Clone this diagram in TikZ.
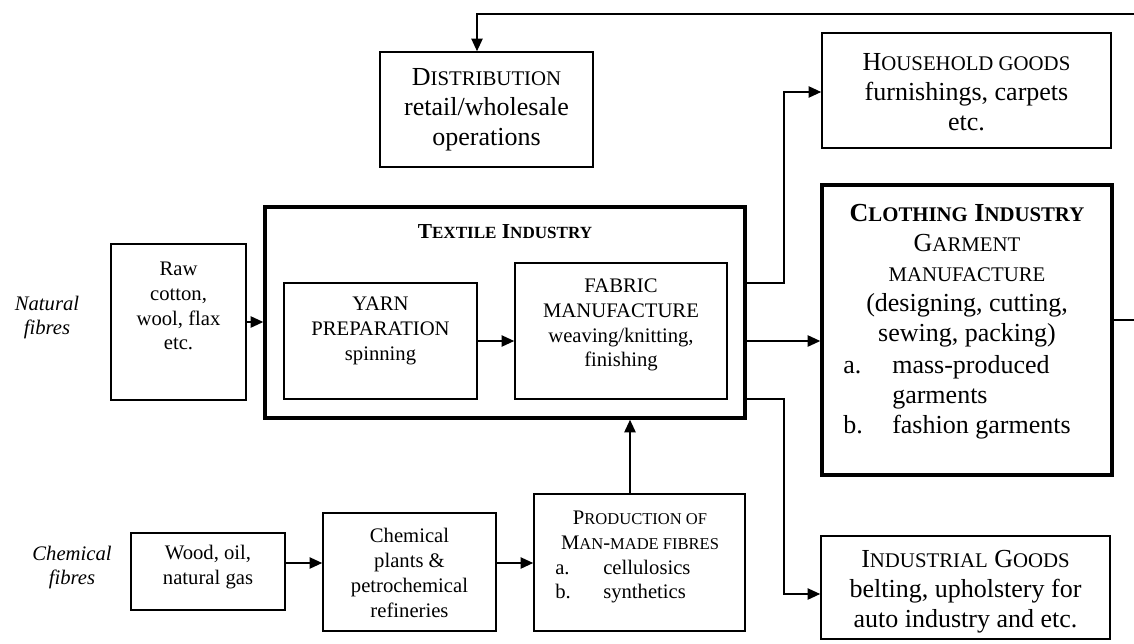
\documentclass[tikz,border=0pt]{standalone}
\usepackage{fontspec}
\setmainfont{Liberation Serif}
\usepackage{graphicx}
\usetikzlibrary{arrows.meta,fit}
% small capitals made from scaled upper-case letters
\newcommand\smc[1]{\scalebox{0.8}{#1}}

\begin{document}
\begin{tikzpicture}[x=0.75pt,y=-0.75pt,
  box/.style={draw,line width=1.2pt,inner sep=0pt},
  heavybox/.style={draw,line width=2.6pt,inner sep=0pt},
  conn/.style={line width=1.2pt},
  arr/.style={conn,-{Triangle[length=9.5pt,width=8.5pt]}},
  small/.style={font=\fontsize{15.5}{18.6}\selectfont,align=center,inner sep=0pt},
  lbl/.style={font=\fontsize{15.5}{18}\selectfont\itshape,align=center,inner sep=0pt},
  large/.style={font=\fontsize{19.5}{22.5}\selectfont,align=center,inner sep=0pt},
  item/.style={inner sep=0pt,anchor=base west},
]
\useasboundingbox (0,0) rectangle (1134,643);

% natural fibres branch
\node[lbl] (natlabel) at (47,318) {Natural\\fibres};
\node[box,fit={(111,244)(246,400)}] (raw) {};
\node[small] (rawtxt) at (178.5,306) {Raw\\cotton,\\wool, flax\\etc.};

% textile industry
\node[heavybox,fit={(265,207)(745,418)}] (textile) {};
\node[font=\fontsize{16}{19}\selectfont\bfseries,inner sep=0pt] (textiletitle) at (505,232) {T\smc{EXTILE} I\smc{NDUSTRY}};
\node[box,fit={(284,283)(477,399)}] (yarn) {};
\node[small] (yarntxt) at (380.5,331) {YARN\\PREPARATION\\spinning};
\node[box,fit={(515,263)(727,399)}] (fabric) {};
\node[small] (fabrictxt) at (621,325) {FABRIC\\MANUFACTURE\\weaving/knitting,\\finishing};

% distribution
\node[box,fit={(380,52)(593,167)}] (distribution) {};
\node[large] (distxt) at (486.5,110) {D\smc{ISTRIBUTION}\\retail/wholesale\\operations};

% outputs
\node[box,fit={(822,33)(1111,148)}] (household) {};
\node[large] (housetxt) at (966.5,92) {H\smc{OUSEHOLD GOODS}\\furnishings, carpets\\etc.};

\node[heavybox,fit={(822,185)(1112,475)}] (clothing) {};
\node[large] (clothtxt) at (967,276) {\textbf{C\smc{LOTHING} I\smc{NDUSTRY}}\\G\smc{ARMENT}\\\smc{MANUFACTURE}\\(designing, cutting,\\sewing, packing)};
\begin{scope}[font=\fontsize{19.5}{22.5}\selectfont]
  \node[item] (ca) at (843,373) {a.};
  \node[item] (cat) at (892,373) {mass-produced};
  \node[item] (cat2) at (892,403) {garments};
  \node[item] (cb) at (843,433) {b.};
  \node[item] (cbt) at (892,433) {fashion garments};
\end{scope}

\node[box,fit={(821,536)(1110,639)}] (industrial) {};
\node[large] (indtxt) at (965.5,592) {I\smc{NDUSTRIAL} G\smc{OODS}\\belting, upholstery for\\auto industry and etc.};

% chemical fibres branch
\node[lbl] (chemlabel) at (72,567.5) {Chemical\\fibres};
\node[box,fit={(131,533)(285,610)}] (wood) {};
\node[small] (woodtxt) at (208,567) {Wood, oil,\\natural gas};
\node[box,fit={(323,513)(496,631)}] (chem) {};
\node[small] (chemtxt) at (409.5,573) {Chemical\\plants \&\\petrochemical\\refineries};
\node[box,fit={(534,494)(745,631)}] (prod) {};
\node[small] (prodtxt) at (640,530) {P\smc{RODUCTION OF}\\M\smc{AN}-\smc{MADE FIBRES}};
\begin{scope}[font=\fontsize{15.5}{18.6}\selectfont]
  \node[item] (pa) at (555,574) {a.};
  \node[item] (pat) at (603,574) {cellulosics};
  \node[item] (pb) at (555,598) {b.};
  \node[item] (pbt) at (603,598) {synthetics};
\end{scope}

% connectors
\draw[arr] (raw.east) -- (raw.east -| textile.west);
\draw[arr] (yarn.east) -- (yarn.east -| fabric.west);
\draw[arr] (textile.east |- 0,283) -- (784,283) |- (household.west |- 0,92);
\draw[arr] (textile.east |- 0,341) -- (clothing.west |- 0,341);
\draw[arr] (textile.east |- 0,399) -- (784,399) |- (industrial.west |- 0,594);
\draw[arr] (clothing.east |- 0,320) -- (1150,320) |- (477,14) -- (distribution.north -| 477,0);
\draw[arr] (wood.east |- 0,563) -- (chem.west |- 0,563);
\draw[arr] (chem.east |- 0,563) -- (prod.west |- 0,563);
\draw[arr] (prod.north -| 630,0) -- (textile.south -| 630,0);
\end{tikzpicture}
\end{document}
